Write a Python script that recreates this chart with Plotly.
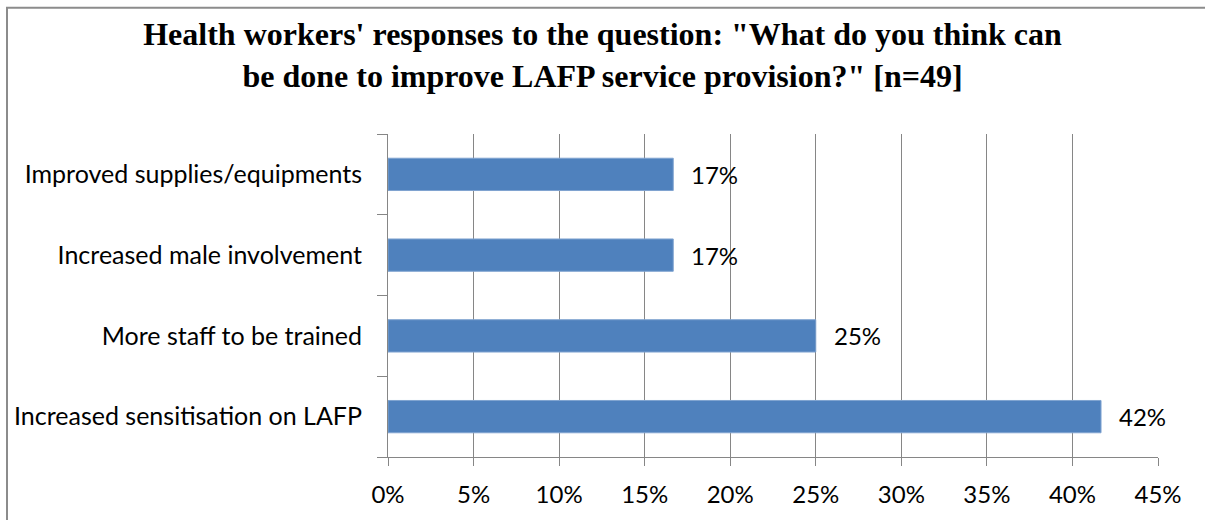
import plotly.graph_objects as go

categories = ["Increased sensitisation on LAFP", "More staff to be trained",
              "Increased male involvement", "Improved supplies/equipments"]
values = [41.67, 25.0, 16.67, 16.67]
labels = ["42%", "25%", "17%", "17%"]
tick_vals = [0, 5, 10, 15, 20, 25, 30, 35, 40, 45]
tick_text = ["0%", "5%", "10%", "15%", "20%", "25%", "30%", "35%", "40%", "45%"]

W, H = 1205, 520
ML, MR, MT, MB = 388, 47, 134, 61
PW, PH = W - ML - MR, H - MT - MB

BAR = "#4F81BD"
GRID = "#868686"
FONT = "Lato"

fig = go.Figure()
fig.add_trace(go.Bar(
    x=values, y=categories, orientation="h", width=0.4,
    marker=dict(color=BAR, line=dict(color="#7FA3D0", width=1)),
    hoverinfo="skip",
))

for v, c, t in zip(values, categories, labels):
    fig.add_annotation(x=v, y=c, text=t, showarrow=False, xanchor="left",
                       xshift=16, font=dict(family=FONT, size=24, color="black"))

def px_x(p):
    return (p - ML) / PW

def px_y(p):
    return (H - MB - p) / PH

# chart border (left and top visible)
fig.add_shape(type="path", xref="paper", yref="paper",
              path=f"M {px_x(7)} {px_y(530)} L {px_x(7)} {px_y(7)} L {px_x(1215)} {px_y(7)}",
              line=dict(color="#8C8C8C", width=2))

fig.update_layout(
    width=W, height=H,
    margin=dict(l=ML, r=MR, t=MT, b=MB),
    paper_bgcolor="white", plot_bgcolor="white",
    showlegend=False,
    title=dict(
        text="Health workers' responses to the question: \"What do you think can<br>be done to improve LAFP service provision?\" [n=49]",
        x=0.5, xref="container", xanchor="center", y=1 - 45 / H, yanchor="top",
        font=dict(family="Liberation Serif", size=32, color="black", weight="bold"),
    ),
    xaxis=dict(
        range=[0, 45], tickvals=tick_vals, ticktext=tick_text,
        showgrid=True, gridcolor=GRID, gridwidth=1,
        showline=True, linecolor=GRID, linewidth=1,
        ticks="outside", ticklen=8, tickcolor=GRID,
        ticklabelstandoff=8,
        tickfont=dict(family=FONT, size=24, color="black"),
        zeroline=False, fixedrange=True,
    ),
    yaxis=dict(
        type="category", categoryorder="array", categoryarray=categories,
        range=[-0.5, 3.5], tickson="boundaries",
        showgrid=False, showline=True, linecolor=GRID, linewidth=1,
        ticks="outside", ticklen=10, tickcolor=GRID,
        ticklabelstandoff=20,
        tickfont=dict(family=FONT, size=25, color="black"),
        fixedrange=True,
    ),
)

fig.write_html("out.html", config={"displayModeBar": False},
               post_script="document.body.style.margin='0';")
